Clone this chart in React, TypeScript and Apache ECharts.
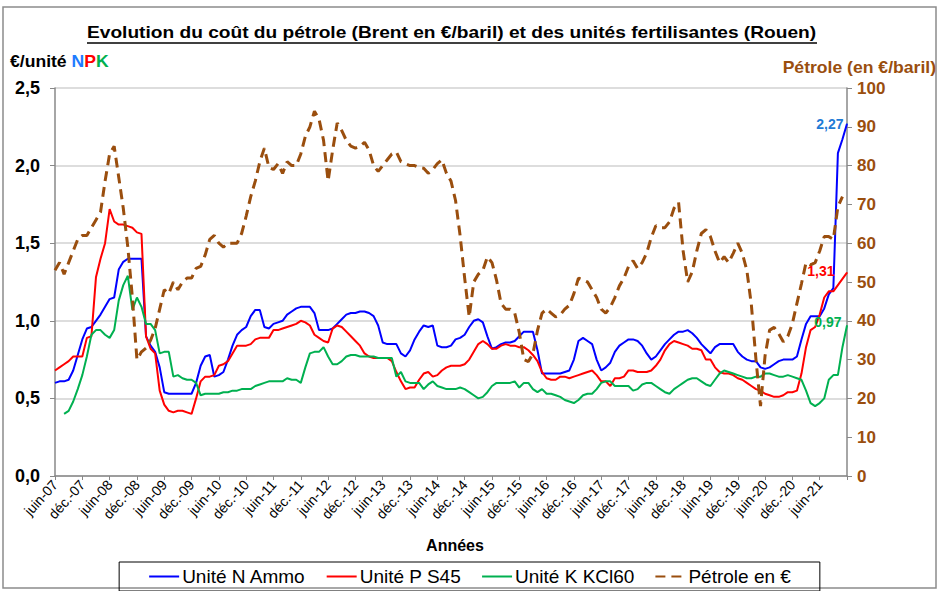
import React, { useEffect, useRef } from "react";
import * as echarts from "echarts";

const MONTHS = ["janv.", "févr.", "mars", "avr.", "mai", "juin", "juil.", "août", "sept.", "oct.", "nov.", "déc."];
const N_MONTHS = 175; // juin-07 .. déc-21
const categories: string[] = [];
for (let k = 0; k < N_MONTHS; k++) {
  const m = (5 + k) % 12;
  const y = 7 + Math.floor((5 + k) / 12);
  categories.push(`${MONTHS[m]}-${String(y).padStart(2, "0")}`);
}

const leftTicks = [0, 0.5, 1.0, 1.5, 2.0, 2.5];
const rightTicks = [0, 10, 20, 30, 40, 50, 60, 70, 80, 90, 100];

// Unité N Ammo (€/unité)
const uniteN = [
  0.60, 0.61, 0.61, 0.62, 0.68, 0.78, 0.88, 0.95, 0.96, 1.00,
  1.04, 1.09, 1.14, 1.15, 1.33, 1.38, 1.40, 1.40, 1.40, 1.40,
  0.90, 0.84, 0.80, 0.70, 0.54, 0.53, 0.53, 0.53, 0.53, 0.53,
  0.53, 0.60, 0.71, 0.77, 0.78, 0.64, 0.65, 0.67, 0.75, 0.84,
  0.91, 0.94, 0.96, 1.03, 1.07, 1.07, 0.96, 0.95, 0.98, 0.99,
  1.00, 1.04, 1.06, 1.08, 1.09, 1.09, 1.09, 1.05, 0.94, 0.94,
  0.94, 0.95, 0.98, 1.01, 1.04, 1.05, 1.05, 1.06, 1.06, 1.05,
  1.03, 0.97, 0.86, 0.85, 0.85, 0.85, 0.79, 0.77, 0.81, 0.88,
  0.93, 0.97, 0.96, 0.97, 0.84, 0.83, 0.83, 0.84, 0.88, 0.89,
  0.91, 0.96, 1.00, 1.01, 0.99, 0.90, 0.82, 0.83, 0.85, 0.86,
  0.86, 0.87, 0.90, 0.93, 0.93, 0.93, 0.81, 0.66, 0.66, 0.66,
  0.66, 0.66, 0.67, 0.68, 0.75, 0.87, 0.89, 0.87, 0.85, 0.75,
  0.68, 0.70, 0.73, 0.80, 0.84, 0.86, 0.88, 0.88, 0.87, 0.84,
  0.79, 0.75, 0.77, 0.81, 0.85, 0.88, 0.91, 0.93, 0.93, 0.94,
  0.92, 0.89, 0.85, 0.82, 0.79, 0.83, 0.85, 0.85, 0.85, 0.85,
  0.80, 0.77, 0.75, 0.74, 0.74, 0.70, 0.69, 0.70, 0.72, 0.74,
  0.75, 0.75, 0.75, 0.77, 0.88, 0.98, 1.03, 1.03, 1.03, 1.08,
  1.17, 1.21, 2.08, 2.17, 2.27,
];

// Unité P S45 (€/unité)
const uniteP = [
  0.68, 0.70, 0.72, 0.74, 0.77, 0.77, 0.77, 0.89, 0.90, 1.28,
  1.40, 1.50, 1.72, 1.64, 1.62, 1.62, 1.61, 1.60, 1.57, 1.56,
  0.90, 0.82, 0.79, 0.55, 0.46, 0.42, 0.41, 0.42, 0.42, 0.41,
  0.40, 0.50, 0.61, 0.64, 0.64, 0.65, 0.71, 0.72, 0.74, 0.79,
  0.84, 0.84, 0.84, 0.85, 0.88, 0.89, 0.89, 0.89, 0.94, 0.94,
  0.95, 0.96, 0.97, 0.98, 1.00, 0.99, 0.97, 0.91, 0.89, 0.87,
  0.86, 0.95, 0.97, 0.96, 0.93, 0.90, 0.87, 0.84, 0.79, 0.77,
  0.76, 0.76, 0.76, 0.76, 0.74, 0.67, 0.61, 0.56, 0.57, 0.57,
  0.62, 0.66, 0.67, 0.64, 0.65, 0.68, 0.70, 0.71, 0.71, 0.71,
  0.72, 0.75, 0.80, 0.85, 0.87, 0.85, 0.82, 0.82, 0.84, 0.85,
  0.84, 0.84, 0.83, 0.83, 0.81, 0.78, 0.74, 0.67, 0.63, 0.62,
  0.62, 0.64, 0.64, 0.63, 0.64, 0.65, 0.66, 0.67, 0.68, 0.65,
  0.61, 0.61, 0.58, 0.63, 0.63, 0.64, 0.68, 0.68, 0.67, 0.67,
  0.67, 0.68, 0.71, 0.75, 0.81, 0.85, 0.87, 0.86, 0.85, 0.84,
  0.82, 0.82, 0.81, 0.75, 0.75, 0.70, 0.67, 0.66, 0.66, 0.65,
  0.63, 0.62, 0.60, 0.58, 0.56, 0.55, 0.53, 0.52, 0.51, 0.51,
  0.52, 0.54, 0.54, 0.55, 0.66, 0.83, 0.94, 0.96, 1.04, 1.15,
  1.19, 1.19, 1.23, 1.27, 1.31,
];

// Unité K KCl60 (€/unité) — starts in Aug-07
const uniteK = [
  null, null, 0.40, 0.42, 0.48, 0.56, 0.65, 0.77, 0.91, 0.94,
  0.94, 0.91, 0.89, 0.94, 1.13, 1.23, 1.29, 1.07, 1.15, 1.09,
  0.98, 0.98, 0.94, 0.79, 0.80, 0.80, 0.64, 0.65, 0.63, 0.62,
  0.62, 0.60, 0.52, 0.53, 0.53, 0.53, 0.53, 0.54, 0.54, 0.55,
  0.55, 0.56, 0.56, 0.56, 0.58, 0.59, 0.60, 0.61, 0.61, 0.61,
  0.61, 0.63, 0.62, 0.62, 0.60, 0.70, 0.79, 0.80, 0.80, 0.83,
  0.77, 0.72, 0.72, 0.74, 0.77, 0.78, 0.78, 0.77, 0.77, 0.77,
  0.77, 0.76, 0.76, 0.76, 0.76, 0.64, 0.67, 0.61, 0.60, 0.60,
  0.60, 0.56, 0.59, 0.61, 0.58, 0.57, 0.56, 0.56, 0.56, 0.57,
  0.56, 0.54, 0.52, 0.50, 0.51, 0.54, 0.58, 0.60, 0.60, 0.60,
  0.60, 0.61, 0.57, 0.60, 0.60, 0.56, 0.54, 0.56, 0.53, 0.53,
  0.52, 0.51, 0.49, 0.48, 0.47, 0.49, 0.52, 0.53, 0.53, 0.56,
  0.60, 0.61, 0.61, 0.58, 0.58, 0.58, 0.58, 0.55, 0.56, 0.59,
  0.60, 0.60, 0.58, 0.56, 0.54, 0.53, 0.56, 0.58, 0.60, 0.62,
  0.63, 0.63, 0.61, 0.59, 0.58, 0.62, 0.66, 0.68, 0.67, 0.66,
  0.65, 0.64, 0.63, 0.63, 0.64, 0.64, 0.66, 0.66, 0.65, 0.64,
  0.64, 0.65, 0.64, 0.63, 0.62, 0.55, 0.47, 0.45, 0.47, 0.50,
  0.62, 0.65, 0.65, 0.83, 0.97,
];

// Pétrole Brent (€/baril) — last month not available
const petrole = [
  53, 55, 52, 55, 58, 61, 62, 62, 64, 66,
  68, 76, 83, 85, 77, 69, 59, 46, 30, 32,
  33, 35, 38, 43, 48, 47, 50, 48, 50, 51,
  51, 53.5, 54, 57, 61, 62, 60, 59, 60, 60,
  60, 62.5, 67, 72, 76, 81, 84.5, 79.5, 79, 80.5,
  78, 81, 80, 80, 83, 87.5, 90, 94, 92, 86.5,
  76, 84, 91, 89, 86.5, 85, 84.5, 85, 86, 84,
  80, 78.5, 80, 81.5, 83, 83.5, 81, 80.5, 80, 80,
  79.5, 79.3, 78, 79, 80.5, 81.5, 78, 76, 71, 62,
  51, 41, 50, 52, 53, 56.5, 55, 50.5, 44.5, 43,
  43, 42, 37, 30, 29.5, 31.5, 37.5, 42, 43, 42,
  41, 41.5, 43, 44, 47, 51, 50.5, 50, 48, 46,
  43, 42, 43.5, 46, 49, 51, 54, 55.5, 53.5, 55,
  57.5, 61.5, 64.5, 64, 64, 65.5, 69, 70.5, 58, 50,
  52.6, 58, 62.5, 63.5, 61.7, 58, 55, 56.5, 55, 57.4,
  60, 57.4, 53, 44, 30, 18, 31, 37.6, 38.3, 36.7,
  34.6, 36, 39.3, 44.5, 49.6, 55, 54.4, 55, 58, 61.7,
  61.7, 61, 69.4, 72, null,
];

const FONT = "'Liberation Sans', Arial, sans-serif";
const BLUE = "#0000FF";
const RED = "#FF0000";
const GREEN = "#00B050";
const BROWN = "#9A4E0E";

const commaFmt = (v: number, d: number) => v.toFixed(d).replace(".", ",");

function measure(text: string, font: string): number {
  const c = document.createElement("canvas").getContext("2d");
  if (!c) return text.length * 8;
  c.font = font;
  return c.measureText(text).width;
}

export default function App() {
  const ref = useRef<HTMLDivElement>(null);

  useEffect(() => {
    if (!ref.current) return;
    const chart = echarts.init(ref.current, undefined, { renderer: "svg" });

    const titleText = "Evolution du coût du pétrole (Brent en €/baril) et des unités fertilisantes (Rouen)";
    const titleFont = `bold 16px ${FONT}`;
    const titleLeft = 87;
    const titleRight = 817;
    const titleW = measure(titleText, titleFont) || 650;
    const titleScale = (titleRight - titleLeft) / titleW;

    const lastIdx = N_MONTHS - 1;
    const endLabel = (value: number, color: string, distance: number, offset: number[]) => ({
      symbol: "circle",
      symbolSize: 1,
      itemStyle: { color },
      data: [{ coord: [lastIdx, value], value }],
      label: {
        show: true,
        position: "left",
        distance,
        offset,
        formatter: (p: any) => commaFmt(p.value, 2),
        color,
        fontWeight: "bold",
        fontSize: 14,
        fontFamily: FONT,
      },
    });

    const showIdx = (i: number) => i % 6 === 0 && i < lastIdx;

    chart.setOption({
      animation: false,
      backgroundColor: "#ffffff",
      textStyle: { fontFamily: FONT },
      grid: { left: 55, right: 92, top: 88, bottom: 115, containLabel: false },
      graphic: [
        {
          type: "rect",
          shape: { x: 3, y: 7, width: 933, height: 581 },
          style: { fill: "none", stroke: "#8c8c8c", lineWidth: 1.5 },
          silent: true,
        },
        {
          type: "text",
          x: titleLeft,
          y: 33,
          scaleX: titleScale,
          style: {
            text: titleText,
            font: titleFont,
            fill: "#000",
            textAlign: "left",
            textVerticalAlign: "middle",
          },
        },
        {
          type: "line",
          shape: { x1: titleLeft, y1: 43, x2: titleRight, y2: 43 },
          style: { stroke: "#000", lineWidth: 1.3 },
        },
        {
          type: "text",
          x: 10,
          y: 62,
          scaleX: 1.1,
          style: {
            text: "{a|€/unité }{n|N}{p|P}{k|K}",
            textVerticalAlign: "middle",
            rich: {
              a: { fontSize: 16, fontWeight: "bold", fill: "#000", fontFamily: FONT },
              n: { fontSize: 16, fontWeight: "bold", fill: "#1E7BFF", fontFamily: FONT },
              p: { fontSize: 16, fontWeight: "bold", fill: RED, fontFamily: FONT },
              k: { fontSize: 16, fontWeight: "bold", fill: GREEN, fontFamily: FONT },
            },
          },
        },
        {
          type: "text",
          x: 936,
          y: 68,
          scaleX: 1.1,
          style: {
            text: "Pétrole (en €/baril)",
            font: `bold 16px ${FONT}`,
            fill: BROWN,
            textAlign: "right",
            textVerticalAlign: "middle",
          },
        },
        {
          type: "text",
          x: 455,
          y: 545,
          style: {
            text: "Années",
            font: `bold 16px ${FONT}`,
            fill: "#000",
            textAlign: "center",
            textVerticalAlign: "middle",
          },
        },
      ],
      legend: {
        top: 562,
        left: "center",
        itemWidth: 30,
        itemHeight: 12,
        itemGap: 20,
        borderColor: "#000",
        borderWidth: 1,
        padding: [5, 29, 5, 29],
        itemStyle: { opacity: 0 },
        textStyle: { fontSize: 19, color: "#000", fontFamily: FONT, padding: [0, 0, 0, -2] },
        data: ["Unité N Ammo", "Unité P S45", "Unité K KCl60", "Pétrole en €"],
      },
      xAxis: {
        type: "category",
        data: categories,
        boundaryGap: false,
        axisLine: { show: true, lineStyle: { color: "#888", width: 1.5 } },
        axisTick: { show: true, interval: (i: number) => i % 6 === 0, length: 4, lineStyle: { color: "#888" } },
        axisLabel: {
          interval: (i: number) => showIdx(i),
          rotate: 48,
          fontSize: 14,
          color: "#000",
          margin: 6,
          fontFamily: FONT,
        },
        splitLine: { show: false },
      },
      yAxis: [
        {
          type: "value",
          min: leftTicks[0],
          max: leftTicks[leftTicks.length - 1],
          interval: 0.5,
          axisLine: { show: true, lineStyle: { color: "#888", width: 1.5 } },
          axisTick: { show: true, length: 5, lineStyle: { color: "#888" } },
          axisLabel: {
            formatter: (v: number) => commaFmt(v, 1),
            fontSize: 18,
            fontWeight: "bold",
            color: "#000",
            margin: 15,
            fontFamily: FONT,
          },
          splitLine: { show: true, lineStyle: { color: "#d2d2d2", width: 1.5 } },
        },
        {
          type: "value",
          min: rightTicks[0],
          max: rightTicks[rightTicks.length - 1],
          interval: 10,
          position: "right",
          axisLine: { show: true, lineStyle: { color: "#888", width: 1.5 } },
          axisTick: { show: true, length: 5, lineStyle: { color: "#888" } },
          axisLabel: {
            fontSize: 17,
            fontWeight: "bold",
            color: BROWN,
            margin: 10,
            fontFamily: FONT,
          },
          splitLine: { show: false },
        },
      ],
      series: [
        {
          name: "Unité N Ammo",
          type: "line",
          data: uniteN,
          symbol: "none",
          lineStyle: { color: BLUE, width: 2 },
          itemStyle: { color: BLUE },
          markPoint: endLabel(uniteN[lastIdx], "#1F7BD6", 3, [0, 0]),
        },
        {
          name: "Unité P S45",
          type: "line",
          data: uniteP,
          symbol: "none",
          lineStyle: { color: RED, width: 2 },
          itemStyle: { color: RED },
          markPoint: endLabel(uniteP[lastIdx], RED, 12, [0, -2]),
        },
        {
          name: "Unité K KCl60",
          type: "line",
          data: uniteK,
          symbol: "none",
          lineStyle: { color: GREEN, width: 2 },
          itemStyle: { color: GREEN },
          markPoint: endLabel(uniteK[lastIdx] as number, GREEN, 5, [0, -3]),
        },
        {
          name: "Pétrole en €",
          type: "line",
          yAxisIndex: 1,
          data: petrole,
          symbol: "none",
          lineStyle: { color: BROWN, width: 3, type: [10, 6] },
          itemStyle: { color: BROWN },
        },
      ],
    });

    return () => chart.dispose();
  }, []);

  return (
    <div
      ref={ref}
      style={{ position: "absolute", left: 0, top: 0, width: 939, height: 591, background: "#fff" }}
    />
  );
}
